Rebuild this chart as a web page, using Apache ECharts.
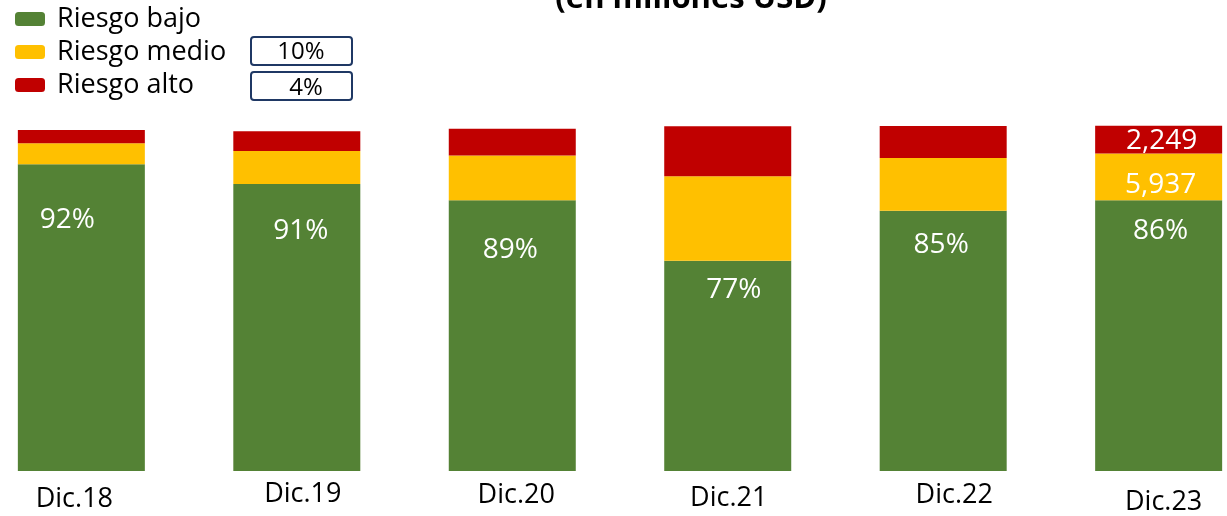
<!DOCTYPE html>
<html>
<head>
<meta charset="utf-8">
<script src="https://cdn.jsdelivr.net/npm/echarts@6/dist/echarts.min.js"></script>
<style>
  html, body { margin: 0; padding: 0; background: #fff; }
  #chart { width: 1227px; height: 516px; }
</style>
</head>
<body>
<div id="chart"></div>
<script>
  // categories and stacked values (bar heights, % of a full bar)
  const categories = ['Dic.18', 'Dic.19', 'Dic.20', 'Dic.21', 'Dic.22', 'Dic.23'];
  const bajo  = [89.3, 83.5, 78.8, 61.2, 75.7, 78.8];
  const medio = [6.1, 9.6, 13.0, 24.6, 15.4, 13.6];
  const alto  = [3.8, 5.8, 7.8, 14.5, 9.3, 8.1];

  // printed labels
  const bajoLabels  = ['92%', '91%', '89%', '77%', '85%', '86%'];
  const medioLabels = ['', '', '', '', '', '5,937'];
  const altoLabels  = ['', '', '', '', '', '2,249'];
  const boxLabels   = ['10%', '4%'];

  // small label nudges (px) to follow the original layout
  const bajoLabelDx = [-14, 4, -2, 6, -2, 2];
  const bajoLabelDy = [56, 47, 50, 29, 34, 31];
  const catDx = [-7, 6, 4, 1, 11, 5];
  const catDy = [5, 0, 1, 4, 1, 8];

  const FONT = '"Open Sans", "Noto Sans", sans-serif';
  const GREEN = '#548235', YELLOW = '#FFC000', RED = '#C00000';

  const chart = echarts.init(document.getElementById('chart'));

  const rich = {};
  categories.forEach((c, i) => {
    const dx = catDx[i];
    rich['l' + i] = {
      fontFamily: FONT,
      fontSize: 27,
      color: '#000',
      padding: [catDy[i], dx < 0 ? -2 * dx : 0, 0, dx > 0 ? 2 * dx : 0]
    };
  });

  const option = {
    animation: false,
    backgroundColor: '#fff',
    // bars sit on the category ticks (boundaryGap off), so the grid spans first..last bar centre
    grid: { left: 81.35, right: 68.35, top: 93, bottom: 43.5, containLabel: false },
    legend: {
      orient: 'vertical',
      left: 15,
      top: 4,
      padding: 0,
      itemGap: 3,
      itemWidth: 30,
      itemHeight: 14,
      icon: 'roundRect',
      data: ['Riesgo bajo', 'Riesgo medio', 'Riesgo alto'],
      textStyle: { fontFamily: FONT, fontSize: 27, color: '#000', lineHeight: 30, padding: [0, 0, 0, 7] }
    },
    xAxis: {
      type: 'category',
      boundaryGap: false,
      data: categories,
      axisLine: { show: false },
      axisTick: { show: false },
      axisLabel: {
        margin: 10,
        interval: 0,
        formatter: (v, i) => '{l' + i + '|' + v + '}',
        rich: rich
      }
    },
    yAxis: {
      type: 'value',
      min: 0,
      max: 110,
      show: false,
      splitLine: { show: false }
    },
    graphic: [
      {
        // title, cut off at the top edge as in the original
        type: 'text', x: 691, y: -1,
        style: {
          text: '(en millones USD)', fontFamily: FONT, fontSize: 31, fontWeight: 'bold', fill: '#000',
          align: 'center', verticalAlign: 'middle'
        }
      },
      {
        type: 'rect', shape: { x: 251, y: 37, width: 101, height: 28, r: 3 },
        style: { fill: '#fff', stroke: '#1F3864', lineWidth: 2 }
      },
      {
        type: 'text', x: 301, y: 52,
        style: { text: boxLabels[0], fontFamily: FONT, fontSize: 24, fill: '#000', align: 'center', verticalAlign: 'middle' }
      },
      {
        type: 'rect', shape: { x: 251, y: 72, width: 101, height: 28, r: 3 },
        style: { fill: '#fff', stroke: '#1F3864', lineWidth: 2 }
      },
      {
        type: 'text', x: 306, y: 88,
        style: { text: boxLabels[1], fontFamily: FONT, fontSize: 24, fill: '#000', align: 'center', verticalAlign: 'middle' }
      }
    ],
    series: [
      {
        name: 'Riesgo bajo',
        type: 'bar',
        stack: 'total',
        barWidth: 127,
        clip: false,
        itemStyle: { color: GREEN },
        data: bajo.map((v, i) => ({
          value: v,
          label: { position: ['50%', bajoLabelDy[i]], offset: [bajoLabelDx[i], 0] }
        })),
        label: {
          show: true,
          align: 'center',
          verticalAlign: 'middle',
          color: '#fff',
          fontFamily: FONT,
          fontSize: 28,
          formatter: p => bajoLabels[p.dataIndex]
        }
      },
      {
        name: 'Riesgo medio',
        type: 'bar',
        stack: 'total',
        barWidth: 127,
        clip: false,
        itemStyle: { color: YELLOW },
        data: medio,
        label: {
          show: true,
          position: 'inside',
          offset: [2, 8],
          color: '#fff',
          fontFamily: FONT,
          fontSize: 28,
          formatter: p => medioLabels[p.dataIndex]
        }
      },
      {
        name: 'Riesgo alto',
        type: 'bar',
        stack: 'total',
        barWidth: 127,
        clip: false,
        itemStyle: { color: RED },
        data: alto,
        label: {
          show: true,
          position: 'inside',
          offset: [3, 1],
          color: '#fff',
          fontFamily: FONT,
          fontSize: 28,
          formatter: p => altoLabels[p.dataIndex]
        }
      }
    ]
  };

  chart.setOption(option);
</script>
</body>
</html>
